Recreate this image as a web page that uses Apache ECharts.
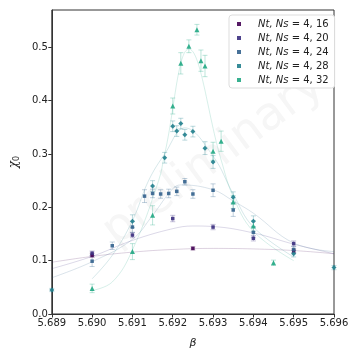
<!DOCTYPE html>
<html>
<head>
<meta charset="utf-8">
<script src="https://cdn.jsdelivr.net/npm/echarts@6/dist/echarts.min.js"></script>
<style>
  html, body { margin: 0; padding: 0; background: #fff; }
  #main { width: 360px; height: 360px; }
</style>
</head>
<body>
<div id="main"></div>
<script>
// x ticks
var xTicks = [5.689, 5.690, 5.691, 5.692, 5.693, 5.694, 5.695, 5.696];
var names = ['16', '20', '24', '28', '32'];
var colors = ['#440154', '#3b2f80', '#33628d', '#21808d', '#22a884'];

// measured points (beta, chi, error)
var x16 = [5.690, 5.6925, 5.695];
var y16 = [0.110, 0.123, 0.118];
var e16 = [0.004, 0.003, 0.004];

var x20 = [5.690, 5.691, 5.692, 5.693, 5.694, 5.695];
var y20 = [0.114, 0.148, 0.179, 0.163, 0.142, 0.132];
var e20 = [0.004, 0.005, 0.006, 0.005, 0.005, 0.005];

var x24 = [5.690, 5.6905, 5.691, 5.6913, 5.6915, 5.6917, 5.6919, 5.6921, 5.6923, 5.6925, 5.693, 5.6935, 5.694, 5.695];
var y24 = [0.099, 0.128, 0.163, 0.221, 0.226, 0.225, 0.226, 0.230, 0.248, 0.225, 0.232, 0.195, 0.153, 0.121];
var e24 = [0.010, 0.007, 0.010, 0.012, 0.008, 0.008, 0.008, 0.008, 0.006, 0.008, 0.012, 0.012, 0.010, 0.006];

var x28 = [5.689, 5.691, 5.6915, 5.6918, 5.692, 5.6921, 5.6922, 5.6923, 5.6925, 5.6928, 5.693, 5.6935, 5.694, 5.695, 5.696];
var y28 = [0.045, 0.174, 0.240, 0.293, 0.352, 0.343, 0.357, 0.336, 0.342, 0.311, 0.285, 0.219, 0.174, 0.113, 0.087];
var e28 = [0.003, 0.012, 0.010, 0.010, 0.010, 0.010, 0.010, 0.010, 0.010, 0.012, 0.012, 0.010, 0.010, 0.006, 0.004];

var x32 = [5.690, 5.691, 5.6915, 5.692, 5.6922, 5.6924, 5.6926, 5.6927, 5.6928, 5.693, 5.6932, 5.6935, 5.694, 5.6945];
var y32 = [0.048, 0.117, 0.185, 0.390, 0.470, 0.502, 0.533, 0.475, 0.465, 0.305, 0.324, 0.210, 0.165, 0.096];
var e32 = [0.008, 0.015, 0.018, 0.015, 0.020, 0.012, 0.010, 0.020, 0.020, 0.017, 0.019, 0.012, 0.010, 0.005];

// fitted curves
var cx16 = [5.689, 5.690, 5.691, 5.692, 5.693, 5.694, 5.695, 5.696];
var cy16 = [0.097, 0.108, 0.116, 0.121, 0.123, 0.122, 0.119, 0.113];
var cx20 = [5.689, 5.690, 5.691, 5.692, 5.6925, 5.693, 5.694, 5.695, 5.696];
var cy20 = [0.085, 0.108, 0.138, 0.160, 0.165, 0.164, 0.152, 0.131, 0.113];
var cx24 = [5.689, 5.690, 5.691, 5.6915, 5.692, 5.6922, 5.693, 5.6935, 5.694, 5.695, 5.696];
var cy24 = [0.068, 0.098, 0.140, 0.185, 0.235, 0.242, 0.233, 0.212, 0.189, 0.133, 0.117];
var cx28 = [5.690, 5.6905, 5.691, 5.6914, 5.6918, 5.6923, 5.693, 5.6935, 5.694, 5.695];
var cy28 = [0.066, 0.110, 0.175, 0.250, 0.300, 0.349, 0.296, 0.225, 0.163, 0.107];
var cx32 = [5.690, 5.6905, 5.691, 5.69165, 5.6918, 5.6924, 5.6932, 5.6935, 5.694, 5.695];
var cy32 = [0.044, 0.060, 0.120, 0.250, 0.300, 0.497, 0.289, 0.220, 0.155, 0.100];

var pts = [[x16, y16, e16], [x20, y20, e20], [x24, y24, e24], [x28, y28, e28], [x32, y32, e32]];
var curves = [[cx16, cy16], [cx20, cy20], [cx24, cy24], [cx28, cy28], [cx32, cy32]];

function zip(a, b, c) {
    var out = [];
    for (var i = 0; i < a.length; i++) out.push(c ? [a[i], b[i], c[i]] : [a[i], b[i]]);
    return out;
}

var series = [];
for (var k = 0; k < 5; k++) {
    series.push({
        type: 'line', smooth: 0.4, symbol: 'none', silent: true,
        data: zip(curves[k][0], curves[k][1]),
        lineStyle: { color: colors[k], width: 1, opacity: 0.18 },
        z: 1
    });
}
for (var k = 0; k < 5; k++) {
    (function (col) {
        series.push({
            type: 'custom', silent: true, z: 2,
            data: zip(pts[k][0], pts[k][1], pts[k][2]),
            renderItem: function (params, api) {
                var x = api.value(0), y = api.value(1), e = api.value(2);
                var lo = api.coord([x, y - e]), hi = api.coord([x, y + e]);
                var st = { stroke: col, lineWidth: 1, opacity: 0.3 };
                return { type: 'group', children: [
                    { type: 'line', shape: { x1: lo[0], y1: lo[1], x2: hi[0], y2: hi[1] }, style: st },
                    { type: 'line', shape: { x1: lo[0] - 2.5, y1: lo[1], x2: lo[0] + 2.5, y2: lo[1] }, style: st },
                    { type: 'line', shape: { x1: hi[0] - 2.5, y1: hi[1], x2: hi[0] + 2.5, y2: hi[1] }, style: st }
                ] };
            }
        });
    })(colors[k]);
}
for (var k = 0; k < 5; k++) {
    series.push({
        name: 'Nt, Ns = 4, ' + names[k],
        type: 'scatter', z: 3,
        symbol: k == 4 ? 'triangle' : (k == 3 ? 'diamond' : 'rect'),
        symbolSize: k >= 3 ? 5 : 3.5,
        data: zip(pts[k][0], pts[k][1]),
        itemStyle: { color: colors[k], opacity: 0.9 }
    });
}

var chart = echarts.init(document.getElementById('main'));
chart.setOption({
    animation: false,
    textStyle: { fontFamily: 'DejaVu Sans' },
    grid: { left: 49, right: 26, top: 10, bottom: 46, show: true, borderColor: '#333', borderWidth: 1 },
    graphic: [{
        type: 'text', left: 95, top: 62, rotation: 0.64, z: 0,
        style: { text: 'preliminary', fontSize: 46, fill: '#f6f6f6', fontFamily: 'DejaVu Sans' }
    }],
    legend: {
        orient: 'vertical', left: 229, top: 15,
        backgroundColor: '#fff', borderColor: '#ddd', borderWidth: 1, borderRadius: 3,
        padding: [4, 6, 3, 8], itemGap: 4, itemWidth: 4, itemHeight: 4,
        data: names.map(function (n, i) { return { name: 'Nt, Ns = 4, ' + n, icon: 'rect' }; }),
        formatter: function (name) { return '{i|Nt, Ns} = ' + name.split('= ')[1]; },
        textStyle: { fontSize: 10, color: '#222', padding: [0, 0, 0, 12],
            rich: { i: { fontStyle: 'italic', fontSize: 10, fontFamily: 'DejaVu Sans' } } }
    },
    xAxis: {
        type: 'value', min: xTicks[0], max: xTicks[xTicks.length - 1], interval: 0.001,
        name: 'β', nameLocation: 'middle', nameGap: 24,
        nameTextStyle: { fontSize: 11, fontStyle: 'italic', color: '#222' },
        axisLine: { lineStyle: { color: '#333' } },
        axisTick: { length: 3.5, lineStyle: { color: '#333' } },
        axisLabel: { fontSize: 10, color: '#222', margin: 4, formatter: function (v) { return v.toFixed(3); } },
        splitLine: { show: false }
    },
    yAxis: {
        type: 'value', min: 0, max: 0.57, interval: 0.1,
        name: '{c|χ}{s|0}', nameLocation: 'middle', nameGap: 27, nameRotate: 90,
        nameTextStyle: { color: '#222', rich: {
            c: { fontSize: 12, fontStyle: 'italic', fontFamily: 'DejaVu Serif' },
            s: { fontSize: 8, verticalAlign: 'bottom', padding: [6, 0, 0, 0] } } },
        axisLine: { show: true, lineStyle: { color: '#333' } },
        axisTick: { show: true, length: 3.5, lineStyle: { color: '#333' } },
        axisLabel: { fontSize: 10, color: '#222', margin: 4, showMaxLabel: false, formatter: function (v) { return v.toFixed(1); } },
        splitLine: { show: false }
    },
    series: series
});
</script>
</body>
</html>
